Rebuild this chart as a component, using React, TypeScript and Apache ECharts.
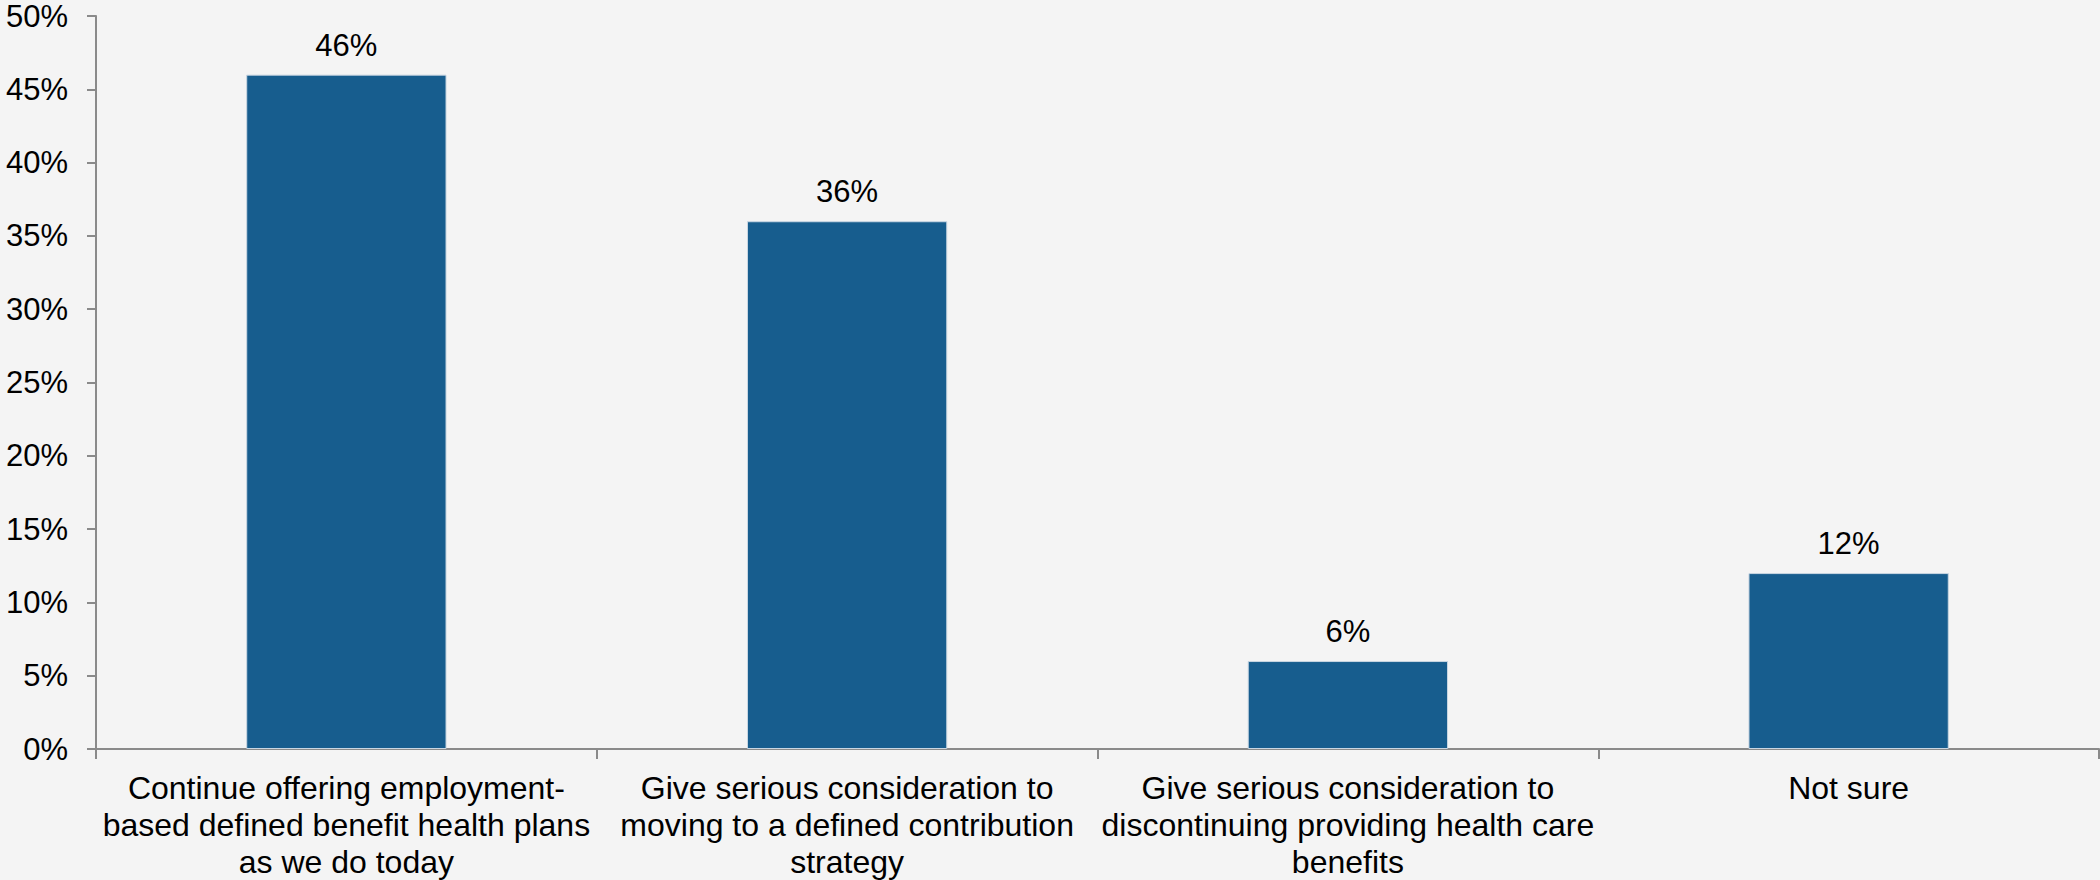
import React, { useEffect, useRef } from "react";
import * as echarts from "echarts";

const categories = [
  "Continue offering employment-\nbased defined benefit health plans\nas we do today",
  "Give serious consideration to\nmoving to a defined contribution\nstrategy",
  "Give serious consideration to\ndiscontinuing providing health care\nbenefits",
  "Not sure",
];
const values = [46, 36, 6, 12];
const yMin = 0;
const yMax = 50;
const yInterval = 5;

const FONT = "'Liberation Sans', Arial, sans-serif";
const AXIS_COLOR = "#8a8a8a";

export default function App() {
  const ref = useRef<HTMLDivElement>(null);
  useEffect(() => {
    document.body.style.margin = "0";
    const chart = echarts.init(ref.current!, null, { renderer: "svg" });
    chart.setOption({
      animation: false,
      backgroundColor: "#f4f4f4",
      textStyle: { fontFamily: FONT },
      grid: { left: 96, right: 1, top: 16, bottom: 129, containLabel: false },
      xAxis: {
        type: "category",
        data: categories,
        axisLine: { show: true, lineStyle: { color: AXIS_COLOR, width: 2 } },
        axisTick: { show: true, alignWithLabel: false, length: 10, lineStyle: { color: AXIS_COLOR, width: 2 } },
        axisLabel: {
          interval: 0,
          margin: 20,
          color: "#000",
          fontSize: 32,
          lineHeight: 37,
          fontFamily: FONT,
          align: "center",
        },
      },
      yAxis: {
        type: "value",
        min: yMin,
        max: yMax,
        interval: yInterval,
        splitLine: { show: false },
        axisLine: { show: true, lineStyle: { color: AXIS_COLOR, width: 2 } },
        axisTick: { show: true, length: 9, lineStyle: { color: AXIS_COLOR, width: 2 } },
        axisLabel: {
          formatter: "{value}%",
          color: "#000",
          fontSize: 31,
          margin: 28,
          fontFamily: FONT,
        },
      },
      series: [
        {
          type: "bar",
          data: values,
          barWidth: "40%",
          itemStyle: { color: "#175d8e", borderColor: "#c9d6e2", borderWidth: 1 },
          label: {
            show: true,
            position: "top",
            distance: 14,
            formatter: "{c}%",
            color: "#000",
            fontSize: 31,
            fontFamily: FONT,
          },
        },
      ],
    });
    return () => chart.dispose();
  }, []);
  return (
    <div
      ref={ref}
      style={{ position: "absolute", left: 0, top: 0, width: 2100, height: 880 }}
    />
  );
}
